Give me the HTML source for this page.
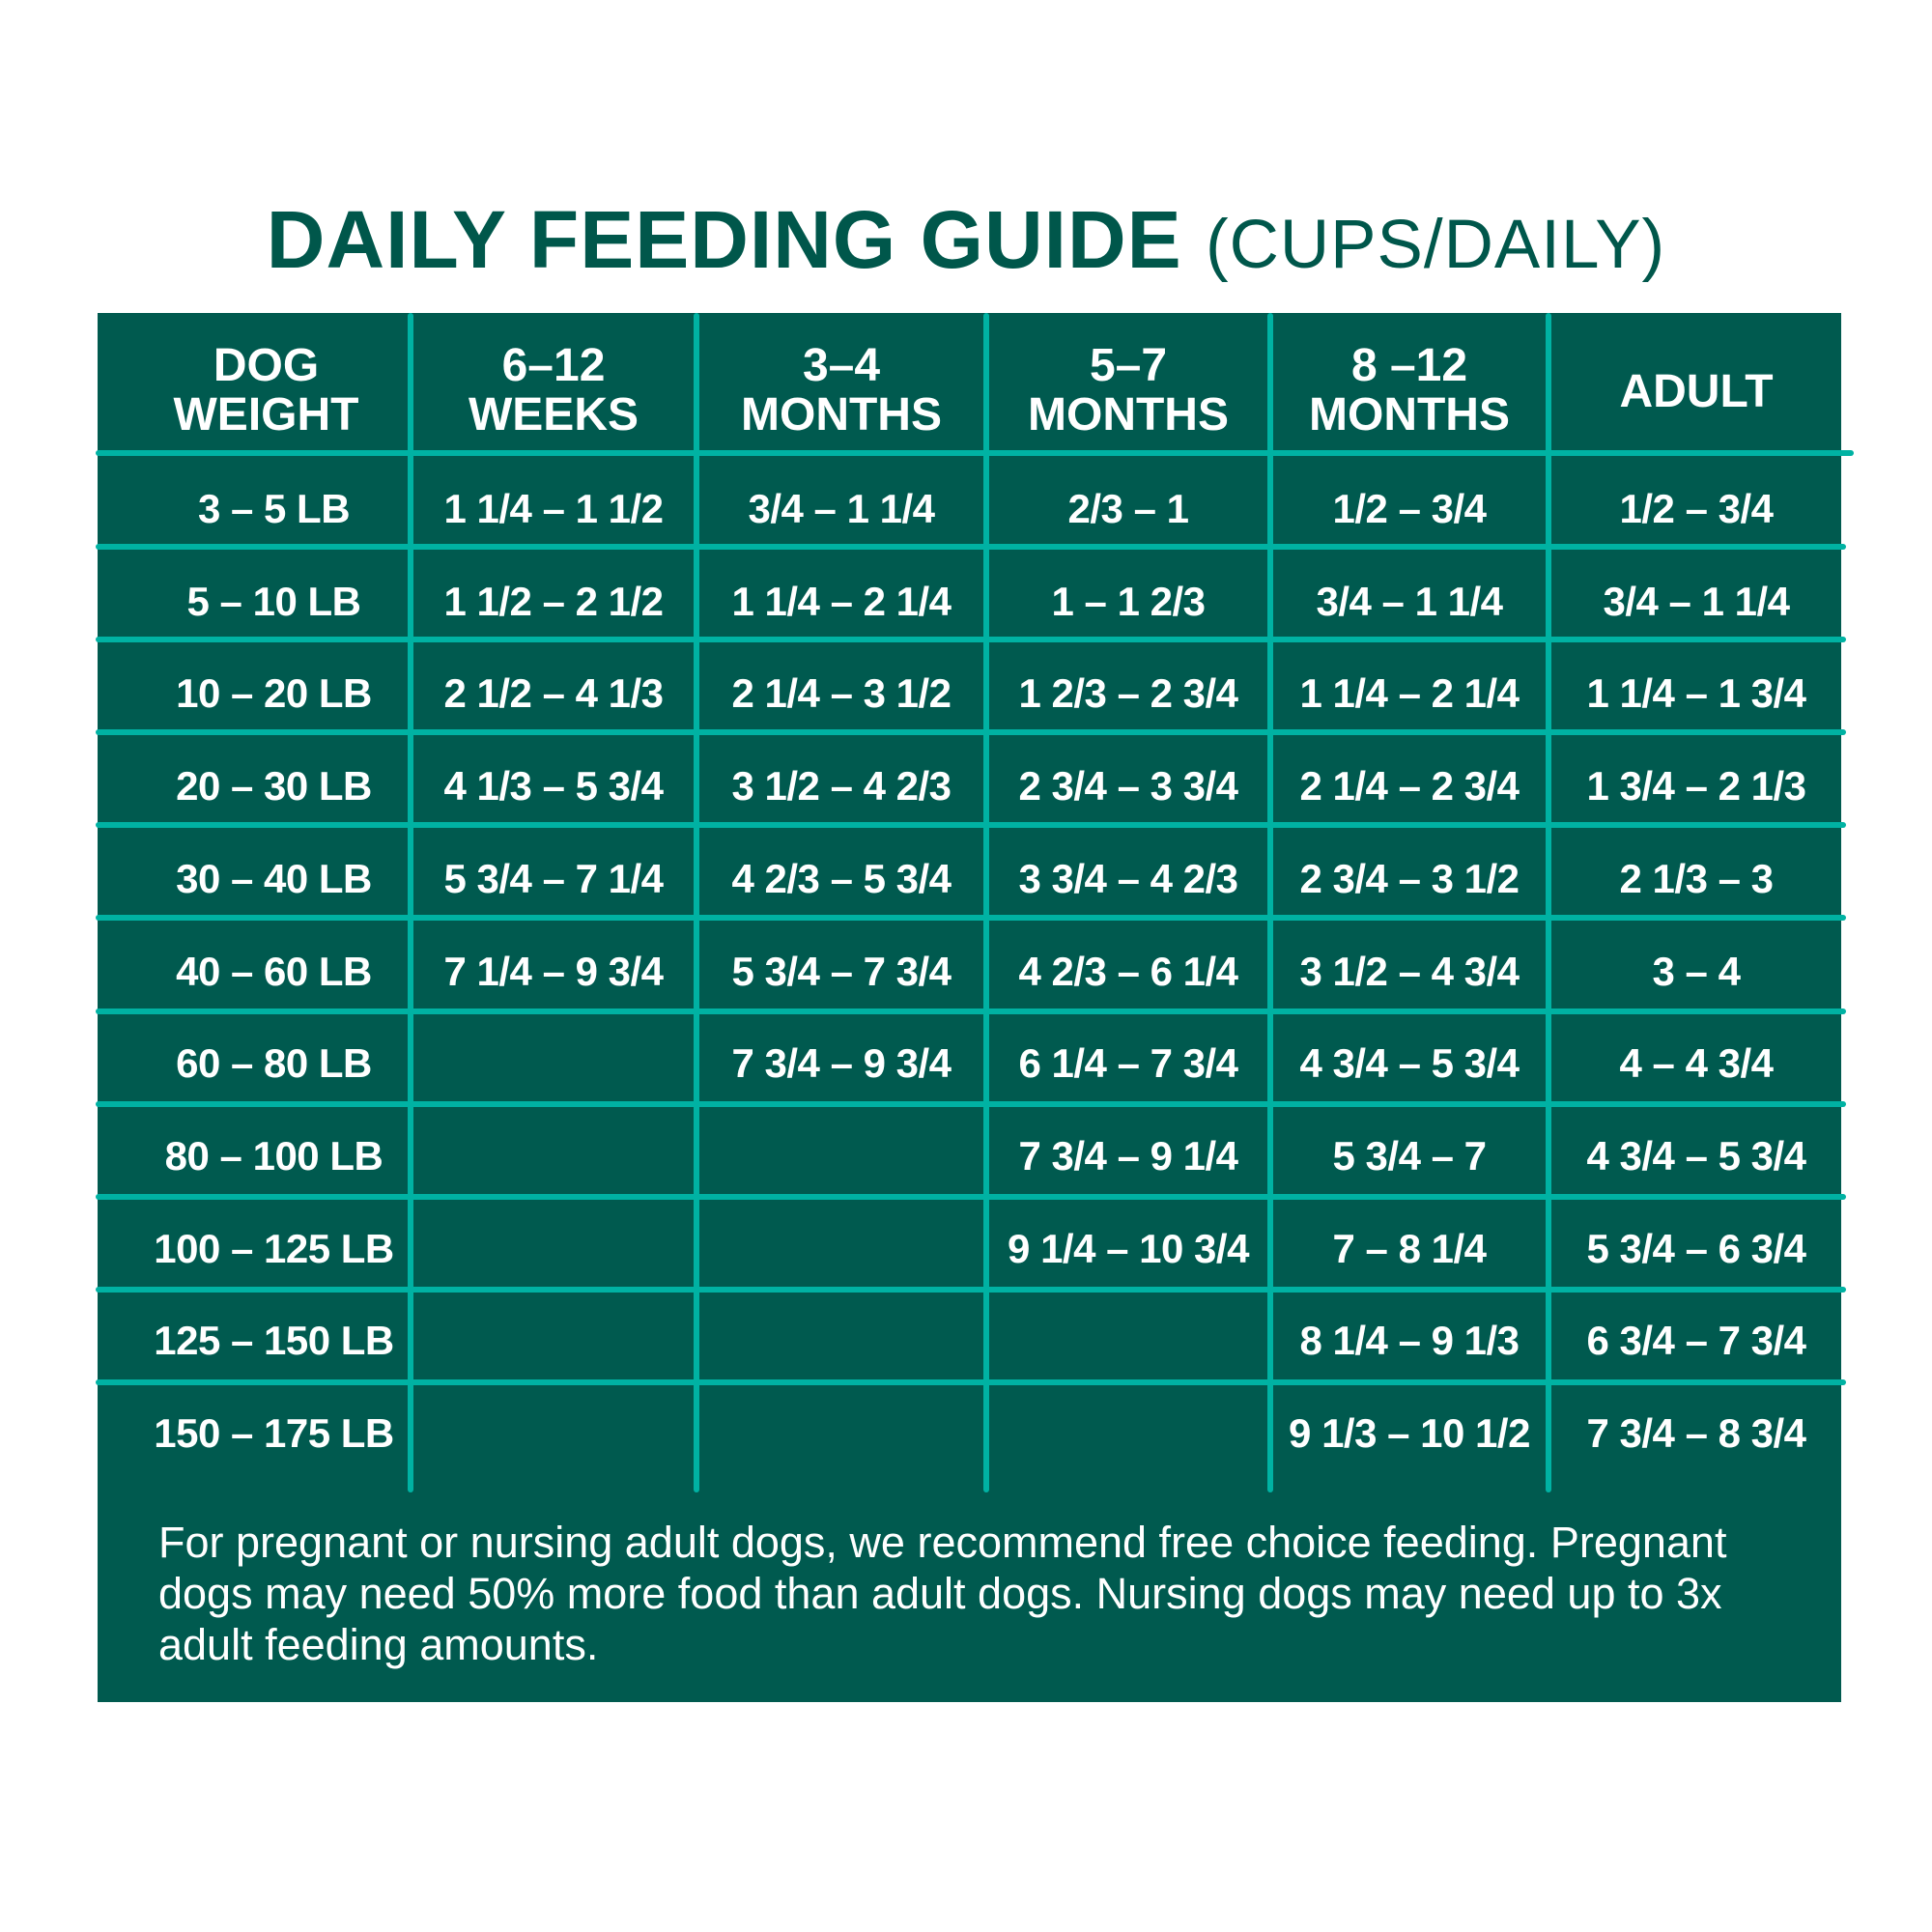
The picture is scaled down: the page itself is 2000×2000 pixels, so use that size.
<!DOCTYPE html>
<html><head><meta charset="utf-8"><style>
html,body{margin:0;padding:0;background:#fff;}
body{width:2000px;height:2000px;position:relative;overflow:hidden;font-family:"Liberation Sans",sans-serif;}
.title{position:absolute;left:0;width:2000px;top:200px;text-align:center;color:#00574b;font-size:84px;font-weight:bold;letter-spacing:1px;white-space:nowrap;}
.title span{font-weight:normal;font-size:71px;}
.box{position:absolute;left:101px;top:324px;width:1805px;height:1438px;background:#005a4f;}
.v{position:absolute;top:324px;height:1221px;width:6px;background:#00b2a3;border-radius:3px;}
.h{position:absolute;left:99px;width:1812px;height:6px;background:#00b2a3;border-radius:3px;}
.c{position:absolute;color:#fff;font-weight:bold;text-align:center;white-space:nowrap;}
.hd{font-size:48px;line-height:51px;}
.d{font-size:42px;line-height:50px;letter-spacing:-0.5px;}
.note{position:absolute;left:164px;top:1570px;width:1760px;color:#fff;font-size:45px;line-height:53px;white-space:nowrap;}
</style></head><body>
<div class="title">DAILY FEEDING GUIDE <span>(CUPS/DAILY)</span></div>
<div class="box"></div>
<div class="v" style="left:422px"></div>
<div class="v" style="left:718px"></div>
<div class="v" style="left:1018px"></div>
<div class="v" style="left:1312px"></div>
<div class="v" style="left:1600px"></div>
<div id="hl"></div>
<div id="g"></div>
<div class="note">For pregnant or nursing adult dogs, we recommend free choice feeding. Pregnant<br>dogs may need 50% more food than adult dogs. Nursing dogs may need up to 3x<br>adult feeding amounts.</div>
<script>
var h="";
for(var i=0;i<11;i++){var t=469+i*96.7-(2+i*0.4)*1.28;
h+='<div class="h" style="top:'+t.toFixed(1)+'px'+(i==0?';width:1820px':'')+'"></div>';}
document.getElementById("hl").innerHTML=h;
var cols=[[101,422],[428,718],[724,1018],[1024,1312],[1318,1600],[1606,1906]];
var hd=["DOG<br>WEIGHT","6–12<br>WEEKS","3–4<br>MONTHS","5–7<br>MONTHS","8 –12<br>MONTHS","ADULT"];
var rows=[
["3 – 5 LB","1 1/4 – 1 1/2","3/4 – 1 1/4","2/3 – 1","1/2 – 3/4","1/2 – 3/4"],
["5 – 10 LB","1 1/2 – 2 1/2","1 1/4 – 2 1/4","1 – 1 2/3","3/4 – 1 1/4","3/4 – 1 1/4"],
["10 – 20 LB","2 1/2 – 4 1/3","2 1/4 – 3 1/2","1 2/3 – 2 3/4","1 1/4 – 2 1/4","1 1/4 – 1 3/4"],
["20 – 30 LB","4 1/3 – 5 3/4","3 1/2 – 4 2/3","2 3/4 – 3 3/4","2 1/4 – 2 3/4","1 3/4 – 2 1/3"],
["30 – 40 LB","5 3/4 – 7 1/4","4 2/3 – 5 3/4","3 3/4 – 4 2/3","2 3/4 – 3 1/2","2 1/3 – 3"],
["40 – 60 LB","7 1/4 – 9 3/4","5 3/4 – 7 3/4","4 2/3 – 6 1/4","3 1/2 – 4 3/4","3 – 4"],
["60 – 80 LB","","7 3/4 – 9 3/4","6 1/4 – 7 3/4","4 3/4 – 5 3/4","4 – 4 3/4"],
["80 – 100 LB","","","7 3/4 – 9 1/4","5 3/4 – 7","4 3/4 – 5 3/4"],
["100 – 125 LB","","","9 1/4 – 10 3/4","7 – 8 1/4","5 3/4 – 6 3/4"],
["125 – 150 LB","","","","8 1/4 – 9 1/3","6 3/4 – 7 3/4"],
["150 – 175 LB","","","","9 1/3 – 10 1/2","7 3/4 – 8 3/4"]];
var s="";
for(var i=0;i<6;i++){var l=cols[i][0],w=cols[i][1]-l;var dx=i==0?28:0;
s+='<div class="c hd" style="left:'+(l+dx)+'px;width:'+(w-dx)+'px;top:'+(i==5?380:353)+'px">'+hd[i]+'</div>';}
for(var r=0;r<rows.length;r++){var cy=527+r*95.7;
for(var i=0;i<6;i++){var l=cols[i][0],w=cols[i][1]-l;var dx=i==0?44:0;
s+='<div class="c d" style="left:'+(l+dx)+'px;width:'+(w-dx)+'px;top:'+(cy-25).toFixed(1)+'px">'+rows[r][i]+'</div>';}}
document.getElementById("g").innerHTML=s;
</script>
</body></html>
